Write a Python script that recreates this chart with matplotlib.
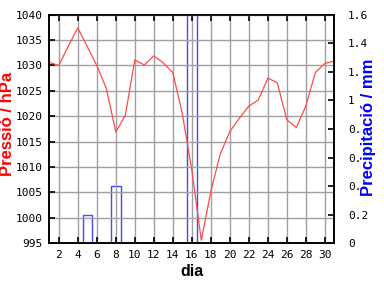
import matplotlib
matplotlib.use("Agg")
import matplotlib.pyplot as plt
import numpy as np

days = list(range(1, 32))
pressure = [1030.6, 1030.0, 1033.8, 1037.4, 1033.7, 1030.0, 1025.5, 1016.9, 1020.2, 1031.1,
            1030.1, 1031.9, 1030.5, 1028.6, 1020.5, 1009.4, 995.6, 1005.2, 1012.6, 1017.0,
            1019.6, 1022.0, 1023.2, 1027.5, 1026.6, 1019.3, 1017.8, 1022.0, 1028.6, 1030.4, 1030.9]
precip_days = [5, 8, 16]
precip = [0.2, 0.4, 1.8]

x_ticks = list(range(2, 31, 2))
p_ticks = list(range(995, 1041, 5))
r_ticks = [0, 0.2, 0.4, 0.6, 0.8, 1.0, 1.2, 1.4, 1.6]
r_labels = ['0', '0.2', '0.', '0.', '0.', '1', '1.', '1.4', '1.6']

mono = 'DejaVu Sans Mono'

fig = plt.figure(figsize=(3.84, 2.88), dpi=100)
ax = fig.add_axes([0.1284, 0.1552, 0.7422, 0.7938])
ax2 = ax.twinx()

ax.set_xlim(1, 31)
ax.set_ylim(995, 1040)
ax2.set_ylim(0, 1.6)

ax.set_xticks(x_ticks)
ax.set_yticks(p_ticks)
ax.grid(True, color='#a0a0a0', linewidth=1.0)
ax.set_axisbelow(True)

ax2.bar(precip_days, precip, width=1.0, fill=False, edgecolor='#4646ff', linewidth=1.0)
ax.set_zorder(ax2.get_zorder() + 1)
ax.patch.set_visible(False)
ax.plot(days, pressure, color='#ff4a4a', linewidth=0.9)

for a in (ax, ax2):
    for s in a.spines.values():
        s.set_color('black')
        s.set_linewidth(1.2)

ax.tick_params(axis='x', which='both', direction='in', length=4, width=1.2,
               top=True, bottom=True, labelsize=8, pad=5)
ax.tick_params(axis='y', direction='in', length=4, width=1.2, labelsize=8, pad=5)
ax2.set_yticks(r_ticks)
ax2.set_yticklabels(r_labels)
ax2.tick_params(axis='y', direction='in', length=4, width=1.2, labelsize=8, pad=10)
for lbl in ax.get_xticklabels() + ax.get_yticklabels() + ax2.get_yticklabels():
    lbl.set_fontfamily(mono)

ax.set_xlabel('dia', fontsize=11.5, fontweight='bold', family='Liberation Sans', labelpad=3)
ax.set_ylabel('Pressió / hPa', fontsize=12, fontweight='bold', color='#ff0000',
              family='Liberation Sans')
ax2.set_ylabel('Precipitació / mm', fontsize=12, fontweight='bold', color='#0000ff',
               family='Liberation Sans')
ax.yaxis.set_label_coords(-0.145, 0.523)
ax2.yaxis.set_label_coords(1.12, 0.509)
for lab in (ax.yaxis.label, ax2.yaxis.label):
    lab.set_rotation(90)
    lab.set_rotation_mode('anchor')
    lab.set_ha('center')
    lab.set_va('center')

fig.savefig('out.png', dpi=100)
